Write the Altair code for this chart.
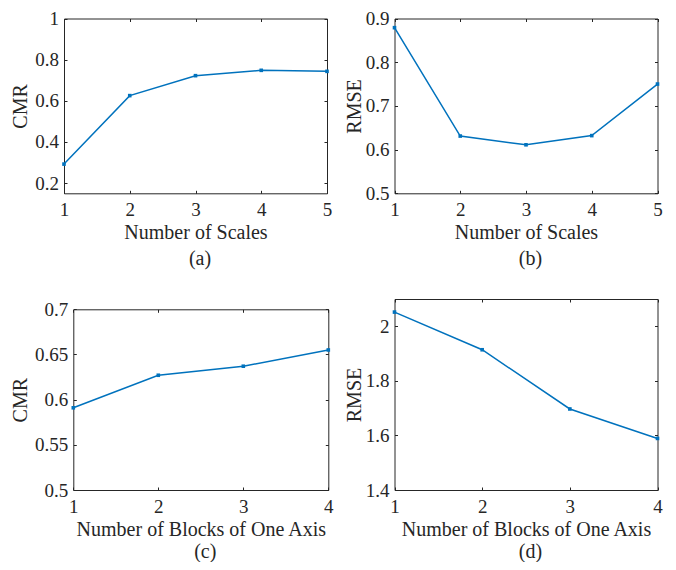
import altair as alt
import pandas as pd

# ---- data ----
scales = [1, 2, 3, 4, 5]
cmr_scales = [0.292, 0.625, 0.722, 0.748, 0.743]
rmse_scales = [0.879, 0.631, 0.611, 0.632, 0.750]
blocks = [1, 2, 3, 4]
cmr_blocks = [0.591, 0.627, 0.637, 0.655]
rmse_blocks = [2.052, 1.914, 1.697, 1.589]

ticks_a = [0.2, 0.4, 0.6, 0.8, 1.0]
ticks_b = [0.5, 0.6, 0.7, 0.8, 0.9]
ticks_c = [0.5, 0.55, 0.6, 0.65, 0.7]
ticks_d = [1.4, 1.6, 1.8, 2.0]

FONT = "Liberation Serif"
TXT = "#262626"
BLUE = "#0072BD"
W, H = 660, 554          # drawing area (page minus 8px margins)
TICK = 3


def base_axis(**kw):
    d = dict(grid=False, labelFont=FONT, labelFontSize=19, labelColor=TXT,
             titleFont=FONT, titleFontSize=20, titleColor=TXT, titleFontWeight="normal",
             domainColor=TXT, domainWidth=1, tickColor=TXT, tickWidth=1,
             labelOverlap=False)
    d.update(kw)
    return alt.Axis(**d)


def panel(xs, ys, id_, xdom, ydom, yticks, xtitle, ytitle, caption,
          L, R, T, B, ytitle_x, xlab_pad, xtitle_y, cap_y):
    df = pd.DataFrame({"x": xs, "y": ys, "panel": id_})
    sx = alt.Scale(domain=xdom, range=[L, R], nice=False, zero=False)
    sy = alt.Scale(domain=ydom, range=[B, T], nice=False, zero=False)
    cx = (L + R) / 2
    cy = (T + B) / 2

    # bottom / left: frame line, tick labels, axis titles
    ax_b = base_axis(orient="bottom", offset=B - H, values=xs, format="d",
                     ticks=False, tickSize=0, labelPadding=xlab_pad,
                     labelBaseline="alphabetic", labelFlush=False,
                     title=xtitle, titleX=cx, titleY=xtitle_y,
                     titleBaseline="alphabetic", titleAlign="center")
    ay_l = base_axis(orient="left", offset=-L, values=yticks, format="~g",
                     ticks=False, tickSize=0, labelPadding=5.5,
                     title=ytitle, titleX=ytitle_x, titleY=cy, titleAngle=270,
                     titleBaseline="alphabetic", titleAlign="center")
    # inward ticks on bottom and left edges (+ caption)
    ax_bt = base_axis(orient="top", offset=-B, values=xs, domain=False,
                      labels=False, tickSize=TICK,
                      title=caption, titleX=cx + 4, titleY=cap_y,
                      titleBaseline="alphabetic", titleAlign="center")
    ay_lt = base_axis(orient="right", offset=L - W, values=yticks, domain=False,
                      labels=False, tickSize=TICK, title=None)
    # top / right frame lines
    ax_t = base_axis(orient="top", offset=-T, values=xs, ticks=False, tickSize=0,
                     labels=False, title=None)
    ay_r = base_axis(orient="right", offset=R - W, values=yticks, ticks=False,
                     tickSize=0, labels=False, title=None)
    # inward ticks on top and right edges
    ax_tt = base_axis(orient="bottom", offset=T - H, values=xs, domain=False,
                      labels=False, tickSize=TICK, title=None)
    ay_rt = base_axis(orient="left", offset=-R, values=yticks, domain=False,
                      labels=False, tickSize=TICK, title=None)

    base = alt.Chart(df)
    l1 = base.mark_line(color=BLUE, strokeWidth=1.5).encode(
        x=alt.X("x:Q", scale=sx, axis=ax_b), y=alt.Y("y:Q", scale=sy, axis=ay_l))
    l2 = base.mark_point(shape="square", filled=True, size=13, color=BLUE, opacity=1).encode(
        x=alt.X("x:Q", scale=sx, axis=ax_bt), y=alt.Y("y:Q", scale=sy, axis=ay_lt))
    l3 = base.mark_point(opacity=0).encode(
        x=alt.X("x:Q", scale=sx, axis=ax_t), y=alt.Y("y:Q", scale=sy, axis=ay_r))
    l4 = base.mark_point(opacity=0).encode(
        x=alt.X("x:Q", scale=sx, axis=ax_tt), y=alt.Y("y:Q", scale=sy, axis=ay_rt))
    return [l1, l2, l3, l4]


layers = []
layers += panel(scales, cmr_scales, "a", [1, 5], [0.15, 1.0], ticks_a,
                "Number of Scales", "CMR", "(a)",
                L=56, R=319, T=10.5, B=185.3, ytitle_x=18.5 - 56, xlab_pad=21.7,
                xtitle_y=45.3, cap_y=71.5)
layers += panel(scales, rmse_scales, "b", [1, 5], [0.5, 0.9], ticks_b,
                "Number of Scales", "RMSE", "(b)",
                L=386.5, R=649.5, T=10.5, B=185.3, ytitle_x=-34.5, xlab_pad=21.7,
                xtitle_y=45.3, cap_y=71.5)
layers += panel(blocks, cmr_blocks, "c", [1, 4], [0.5, 0.7], ticks_c,
                "Number of Blocks of One Axis", "CMR", "(c)",
                L=65.3, R=320.3, T=301.3, B=482, ytitle_x=18.5 - 65.3, xlab_pad=22.5,
                xtitle_y=45.7, cap_y=67.5)
layers += panel(blocks, rmse_blocks, "d", [1, 4], [1.4, 2.1], ticks_d,
                "Number of Blocks of One Axis", "RMSE", "(d)",
                L=386.5, R=649.5, T=291, B=482, ytitle_x=-34.5, xlab_pad=22.5,
                xtitle_y=45.7, cap_y=67.5)

chart = alt.layer(*layers).resolve_scale(x="independent", y="independent").properties(
    width=W, height=H,
    autosize=alt.AutoSizeParams(type="none"),
    padding=0,
).configure_view(stroke=None)

chart.save("out.html", embed_options={"renderer": "svg", "actions": False})
